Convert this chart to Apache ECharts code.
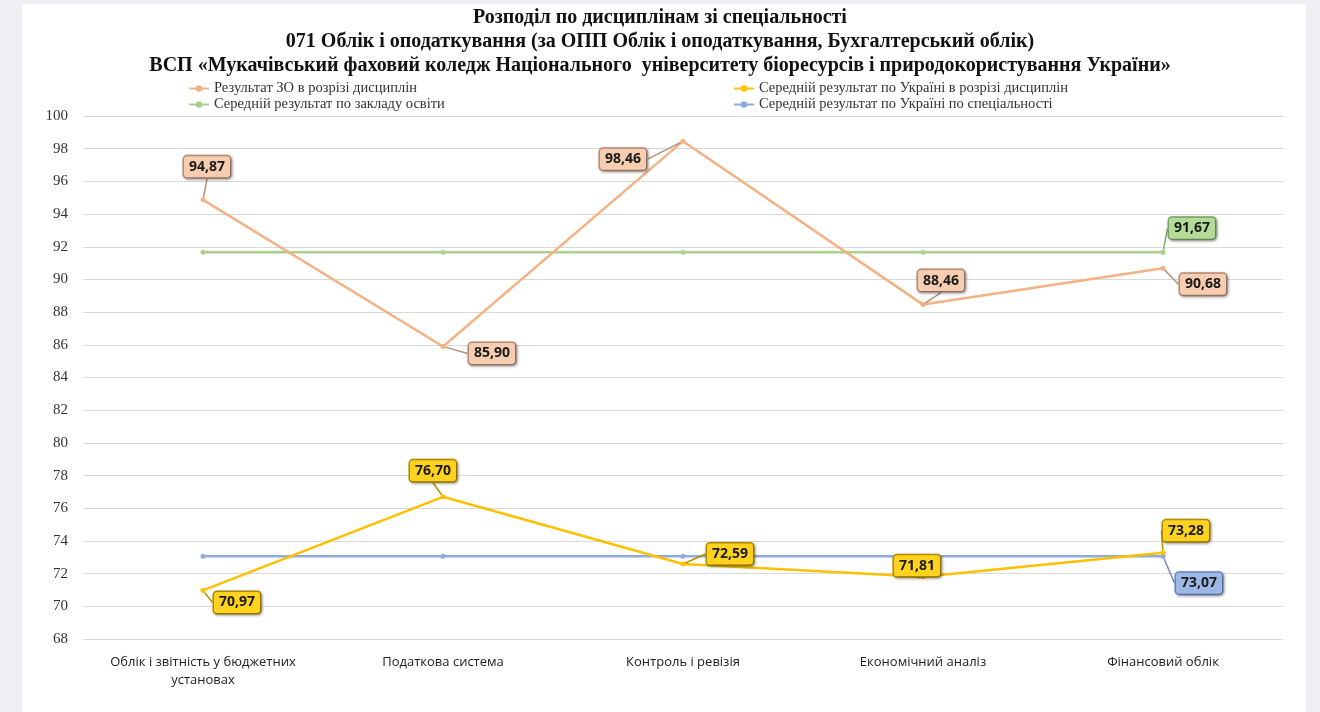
<!DOCTYPE html>
<html><head><meta charset="utf-8">
<script src="https://cdn.jsdelivr.net/npm/echarts@6/dist/echarts.min.js"></script>
<style>
html,body{margin:0;padding:0;background:#eeeff5;}
#panel{position:absolute;left:22px;top:4px;width:1284px;height:708px;background:#fff;}
#c{position:absolute;left:0;top:0;width:1320px;height:712px;}
</style></head>
<body><div id="panel"></div><div id="c"></div>
<script>
const categories = ['Облік і звітність у бюджетних\nустановах', 'Податкова система', 'Контроль і ревізія', 'Економічний аналіз', 'Фінансовий облік'];
const seriesNames = ['Результат ЗО в розрізі дисциплін', 'Середній результат по Україні в розрізі дисциплін', 'Середній результат по закладу освіти', 'Середній результат по Україні по спеціальності'];
const titleLines = ['Розподіл по дисциплінам зі спеціальності', '071 Облік і оподаткування (за ОПП Облік і оподаткування, Бухгалтерський облік)', 'ВСП «Мукачівський фаховий коледж Національного  університету біоресурсів і природокористування України»'];
const zoResult = [94.87, 85.90, 98.46, 88.46, 90.68];
const ukraineDisc = [70.97, 76.70, 72.59, 71.81, 73.28];
const institutionAvg = [91.67, 91.67, 91.67, 91.67, 91.67];
const ukraineSpec = [73.07, 73.07, 73.07, 73.07, 73.07];
const yTicks = {min: 68, max: 100, interval: 2};

// label callout offsets (pixels from the point), per series
const labelOffsets = [
  [[4,-33],[49,7],[-60,18],[18,-24],[40,16]],
  [[34,12],[-10,-26],[47,-10],[-6,-11],[23,-22]],
  [null,null,null,null,[29,-24]],
  [null,null,null,null,[36,27]]
];
const colors = ['#F4B183', '#FFC000', '#A9D18E', '#8FAADC'];
const boxFill = ['#F6CDB0', '#FFD21F', '#B5DB98', '#9DB8E6'];
const boxBorder = ['#B8917A', '#B89000', '#7FA766', '#6E8CC4'];
const fmt = v => v.toFixed(2).replace('.', ',');

function mkSeries(i, data) {
  return {
    name: seriesNames[i], type: 'line', data: data.map((v, j) => ({
      value: v,
      label: {show: labelOffsets[i][j] !== null}
    })),
    symbol: 'circle', symbolSize: 5,
    itemStyle: {color: colors[i]},
    lineStyle: {color: colors[i], width: 2.5},
    z: i === 0 ? 4 : (i === 1 ? 3 : 2),
    label: {
      position: 'inside', formatter: p => fmt(p.value),
      fontFamily: 'Open Sans', fontWeight: 'bold', fontSize: 14, color: '#1a1a1a',
      backgroundColor: boxFill[i], borderColor: boxBorder[i], borderWidth: 1.5, borderRadius: 3,
      padding: [4, 5, 3, 5],
      shadowBlur: 3, shadowColor: 'rgba(0,0,0,0.35)', shadowOffsetX: 1, shadowOffsetY: 1
    },
    labelLine: {show: true, lineStyle: {color: boxBorder[i], width: 1.5}},
    labelLayout: p => {
      const o = labelOffsets[i][p.dataIndex];
      return o ? {dx: o[0], dy: o[1]} : {};
    }
  };
}

const chart = echarts.init(document.getElementById('c'), null, {renderer: 'canvas'});
const legendBase = {
  itemWidth: 20, itemHeight: 8, itemGap: 5, padding: 0,
  textStyle: {fontFamily: 'Liberation Serif', fontSize: 14.5, color: '#333'}
};
const titleStyle = {fontFamily: 'Liberation Serif', fontWeight: 'bold', fontSize: 20, color: '#111'};
chart.setOption({
  backgroundColor: 'transparent',
  animation: false,
  title: titleLines.map((t, k) => ({text: t, left: 'center', top: 8 + k * 24, padding: 0, textStyle: titleStyle})),
  legend: [
    Object.assign({}, legendBase, {data: [seriesNames[0]], left: 188, top: 81}),
    Object.assign({}, legendBase, {data: [seriesNames[1]], left: 733, top: 81}),
    Object.assign({}, legendBase, {data: [seriesNames[2]], left: 188, top: 97}),
    Object.assign({}, legendBase, {data: [seriesNames[3]], left: 733, top: 97})
  ],
  grid: {left: 83, right: 37, top: 116, bottom: 73, containLabel: false},
  xAxis: {
    type: 'category', data: categories, boundaryGap: true,
    axisLine: {show: false}, axisTick: {show: false},
    axisLabel: {fontFamily: 'Open Sans', fontSize: 13, color: '#222', margin: 14, lineHeight: 18, interval: 0}
  },
  yAxis: {
    type: 'value', min: yTicks.min, max: yTicks.max, interval: yTicks.interval,
    axisLine: {show: false}, axisTick: {show: false},
    axisLabel: {fontFamily: 'Liberation Serif', fontSize: 15, color: '#333', margin: 15},
    splitLine: {lineStyle: {color: '#d9d9d9', width: 1}}
  },
  series: [
    mkSeries(0, zoResult),
    mkSeries(1, ukraineDisc),
    mkSeries(2, institutionAvg),
    mkSeries(3, ukraineSpec)
  ]
});
</script></body></html>
